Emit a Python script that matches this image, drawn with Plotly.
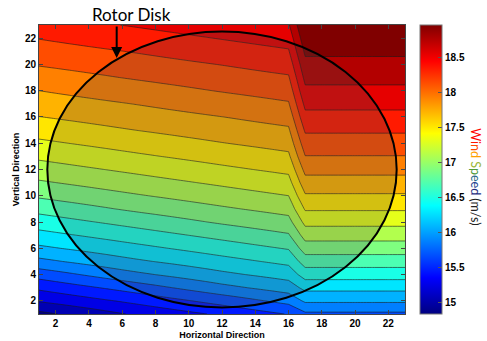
import numpy as np
import plotly.graph_objects as go

# ---- grid -------------------------------------------------------------
horizontal = list(range(1, 24))
vertical = list(range(1, 24))

# Upwind vertical wind profile (m/s) at heights 1..27 (used for the sheared, tilted part)
upwind_heights = list(range(1, 28))
upwind_speed = [14.99, 15.27, 15.50, 15.75, 16.02, 16.24, 16.42, 16.59, 16.76,
                16.93, 17.08, 17.22, 17.35, 17.48, 17.60, 17.72, 17.83, 17.93,
                18.04, 18.15, 18.25, 18.35, 18.46, 18.56, 18.66, 18.76, 18.87]

# Downwind vertical wind profile (m/s) at heights 1..23 (columns 17..23)
downwind_speed = [15.83, 16.11, 16.34, 16.58, 16.79, 17.00, 17.19, 17.37, 17.54,
                  17.70, 17.85, 17.99, 18.13, 18.25, 18.37, 18.49, 18.60, 18.71,
                  18.81, 18.90, 19.00, 19.09, 19.18]

# Height shift of the upwind profile for columns 1..16
column_offset = [0.00, 0.18, 0.36, 0.54, 0.72, 0.90, 1.08, 1.26,
                 1.44, 1.62, 1.80, 1.98, 2.16, 2.34, 2.52, 2.70]

# Colour limits and number of contour bands
speed_min = 14.84
speed_max = 18.96
n_bands = 20

colorbar_ticks = [15, 15.5, 16, 16.5, 17, 17.5, 18, 18.5]
axis_ticks = [2, 4, 6, 8, 10, 12, 14, 16, 18, 20, 22]

rotor_center = (12.0, 12.0)
rotor_radius = 10.5

# ---- build the field --------------------------------------------------
Z = np.empty((len(vertical), len(horizontal)))
heights = np.array(vertical, dtype=float)
for j, _ in enumerate(horizontal):
    if j < len(column_offset):
        Z[:, j] = np.interp(heights + column_offset[j], upwind_heights, upwind_speed)
    else:
        Z[:, j] = downwind_speed

step = (speed_max - speed_min) / n_bands

# MATLAB-style jet
jet = [
    [0.0, "rgb(0,0,128)"],
    [0.125, "rgb(0,0,255)"],
    [0.375, "rgb(0,255,255)"],
    [0.625, "rgb(255,255,0)"],
    [0.875, "rgb(255,0,0)"],
    [1.0, "rgb(128,0,0)"],
]

bold = dict(family="Liberation Sans", size=10, color="black", weight="bold")

fig = go.Figure()

fig.add_trace(go.Contour(
    x=horizontal, y=vertical, z=Z,
    colorscale=jet,
    autocontour=False,
    contours=dict(start=speed_min + step, end=speed_max, size=step, coloring="fill"),
    line=dict(color="rgba(25,25,25,0.85)", width=0.7, smoothing=0),
    showscale=False,
    hoverinfo="skip",
))

# continuous colour bar
fig.add_trace(go.Scatter(
    x=[None], y=[None], mode="markers", showlegend=False,
    marker=dict(
        color=[speed_min], colorscale=jet, cmin=speed_min, cmax=speed_max,
        showscale=True,
        colorbar=dict(
            x=1.041, xanchor="left", y=0.5, yanchor="middle",
            len=1, lenmode="fraction", thickness=22, thicknessmode="pixels",
            xpad=0, ypad=0,
            outlinewidth=1, outlinecolor="#777",
            ticks="inside", ticklen=4, tickcolor="#555",
            tickvals=colorbar_ticks,
            ticktext=[f"{v:g}" for v in colorbar_ticks],
            tickfont=bold,
        ),
    ),
))

# rotor disk
cx, cy = rotor_center
fig.add_shape(
    type="circle", xref="x", yref="y",
    x0=cx - rotor_radius, x1=cx + rotor_radius,
    y0=cy - rotor_radius, y1=cy + rotor_radius,
    fillcolor="rgba(70,70,70,0.24)",
    line=dict(color="black", width=2),
    layer="above",
)

fig.add_annotation(
    x=6.58, y=1.038, xref="x", yref="paper",
    text="Rotor Disk", showarrow=False,
    font=dict(family="Lato", size=17, color="black"),
    xanchor="center", yanchor="middle",
)
fig.add_annotation(
    x=5.67, y=20.48, xref="x", yref="y",
    text="", showarrow=True, ax=0, ay=-33,
    arrowhead=2, arrowsize=1.1, arrowwidth=2, arrowcolor="black",
)

# colour bar title with coloured words
title_html = (
    '<span style="color:#ff0000">W</span>'
    '<span style="color:#ff1500">i</span>'
    '<span style="color:#ff4a00">n</span>'
    '<span style="color:#ffa000">d</span> '
    '<span style="color:#9cb83a">S</span>'
    '<span style="color:#4f9a3a">p</span>'
    '<span style="color:#2a6a8a">e</span>'
    '<span style="color:#213f8f">e</span>'
    '<span style="color:#1f2f7f">d</span> '
    '<span style="color:#222222">(m/s)</span>'
)
fig.add_annotation(
    x=1.192, y=0.476, xref="paper", yref="paper",
    text=title_html, showarrow=False, textangle=90,
    font=dict(family="Lato", size=12.5),
    xanchor="center", yanchor="middle",
)

axis_common = dict(
    ticks="inside", ticklen=4, tickcolor="#444", tickwidth=1,
    showline=True, linecolor="#444", linewidth=1, mirror="ticks",
    showgrid=False, zeroline=False,
    tickfont=bold,
)

fig.update_xaxes(
    range=[1, 23], tickvals=axis_ticks, **axis_common,
    title=dict(text="Horizontal Direction", standoff=3,
               font=dict(family="Liberation Sans", size=9, color="black", weight="bold")),
)
fig.update_yaxes(
    range=[1, 23], tickvals=axis_ticks, **axis_common,
    title=dict(text="Vertical Direction", standoff=3,
               font=dict(family="Liberation Sans", size=9, color="black", weight="bold")),
)

fig.update_layout(
    width=487, height=341,
    margin=dict(l=39, r=82, t=25, b=27, autoexpand=False),
    plot_bgcolor="white", paper_bgcolor="white",
    showlegend=False,
)

fig.write_html("out.html")
